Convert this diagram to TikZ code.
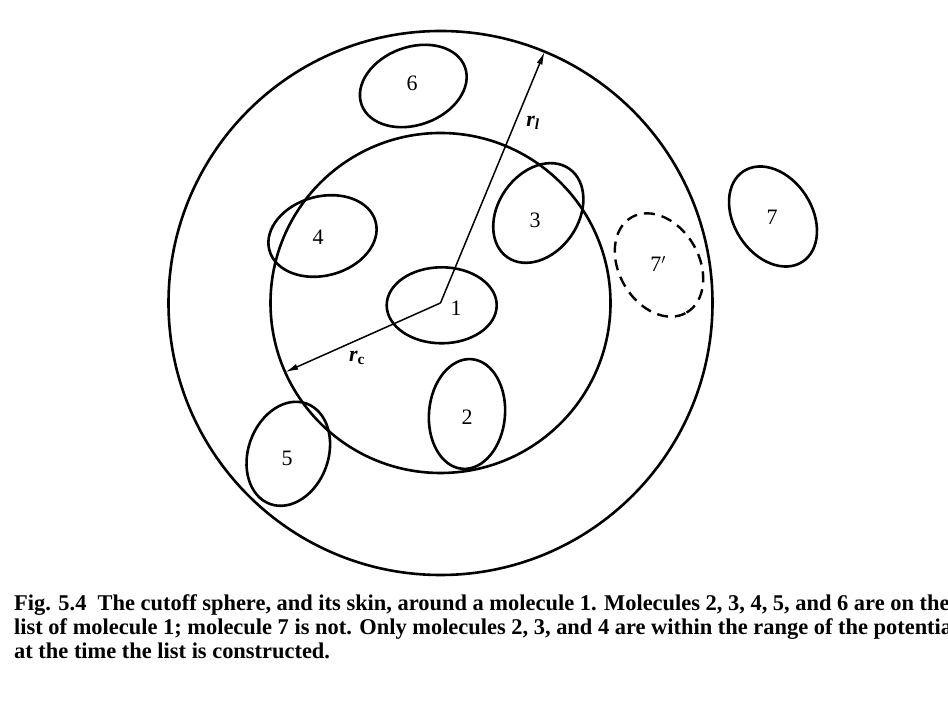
\documentclass[tikz,border=0pt]{standalone}
\usepackage{fontspec}
\setmainfont{Liberation Serif}
\newfontfamily\capfont[FakeStretch=0.997]{Liberation Serif}
\usetikzlibrary{arrows.meta}
\begin{document}
\begin{tikzpicture}[x=1pt,y=1pt,
  ring/.style={line width=2.6pt},
  mol/.style={line width=2.6pt},
  ghost/.style={line width=2.4pt, dash pattern=on 11pt off 7pt},
  radarrow/.style={line width=1.5pt, -{Latex[length=13pt,width=6pt]}},
  num/.style={font=\fontsize{22}{22}\selectfont, inner sep=0pt},
  rlab/.style={font=\fontsize{22}{22}\selectfont\bfseries\itshape, inner sep=0pt},
  capline/.style={anchor=base west, inner sep=0pt, font=\capfont\bfseries\fontsize{22.5}{24}\selectfont}]
\useasboundingbox (0,0) rectangle (948,706);
\clip (0,0) rectangle (948,706);
\fill[white] (0,0) rectangle (948,706);
% cutoff sphere and skin
\coordinate (C) at (440.5,403);
\draw[ring] (C) circle[radius=272];
\draw[ring] (C) circle[radius=170];
% molecules
\draw[mol] (441.7,400.7) ellipse[x radius=55, y radius=38];
\node[num] (m1) at (456,398) {1};
\draw[mol, rotate around={85:(467,292)}] (467,292) ellipse[x radius=55, y radius=38];
\node[num] (m2) at (467,289) {2};
\draw[mol, rotate around={55:(538.3,493)}] (538.3,493) ellipse[x radius=54, y radius=40];
\node[num] (m3) at (535,486) {3};
\draw[mol, rotate around={15:(322.5,470)}] (322.5,470) ellipse[x radius=55, y radius=39.6];
\node[num] (m4) at (318,469) {4};
\draw[mol, rotate around={70:(288.3,252.2)}] (288.3,252.2) ellipse[x radius=53.4, y radius=40];
\node[num] (m5) at (287,248) {5};
\draw[mol, rotate around={20:(413.3,620)}] (413.3,620) ellipse[x radius=55, y radius=39];
\node[num] (m6) at (412,623) {6};
\draw[mol, rotate around={-57:(773,489.5)}] (773,489.5) ellipse[x radius=54, y radius=39];
\node[num] (m7) at (772,489) {7};
\draw[ghost, rotate around={-60:(659,441)}] (659,441) ellipse[x radius=55, y radius=40];
\node[num] (m7p) at (658,442) {7$'$};
% radii
\path (C) ++(67.5:272) coordinate (Tl);
\path (C) ++(204:170) coordinate (Tc);
\draw[radarrow] (C) -- (Tl);
\draw[radarrow] (C) -- (Tc);
\node[rlab] (rl) at (533,583) {r\textsubscript{l}};
\node[rlab] (rc) at (357,348) {r\textsubscript{\upshape c}};
% caption
\node[capline] (cap1) at (14,95) {Fig. 5.4\ \ The cutoff sphere, and its skin, around a molecule 1. Molecules 2, 3, 4, 5, and 6 are on the};
\node[capline] (cap2) at (14,71) {list of molecule 1; molecule 7 is not. Only molecules 2, 3, and 4 are within the range of the potential};
\node[capline] (cap3) at (14,47) {at the time the list is constructed.};
\end{tikzpicture}
\end{document}
